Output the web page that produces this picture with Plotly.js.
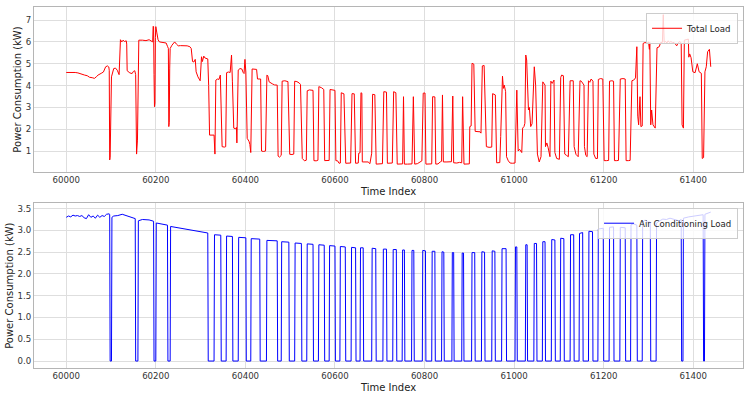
<!DOCTYPE html>
<html>
<head>
<meta charset="utf-8">
<script src="https://cdn.plot.ly/plotly-3.0.1.min.js"></script>
<style>html,body{margin:0;padding:0;background:#fff}#chart{width:750px;height:398px}</style>
</head>
<body>
<div id="chart"></div>
<script>
// Total Load (kW): vertices (time index, value)
const totalX = [60000,60010,60020,60026,60033,60041,60047,60052,60058,60063,60067,60071,60078,60083,60088,60092,60095,60096,60097,60098,60101,60103,60106,60110,60114,60118,60121,60124,60127,60130,60134,60135,60136,60142,60147,60150,60153,60155,60157,60159,60161,60162,60170,60178,60185,60190,60193,60194,60195,60196,60197,60198,60199,60200,60202,60205,60208,60215,60223,60226,60228,60229,60230,60231,60232,60236,60240,60242,60246,60250,60255,60262,60266,60270,60276,60279,60282,60285,60288,60290,60294,60297,60299,60302,60304,60307,60310,60316,60318,60320,60325,60330,60332,60334,60338,60341,60344,60346,60348,60353,60356,60358,60362,60366,60369,60371,60374,60378,60380,60381,60384,60388,60392,60395,60397,60399,60401,60404,60408,60410,60412,60415,60420,60425,60427,60434,60436,60440,60445,60448,60450,60453,60460,60465,60471,60473,60476,60480,60482,60488,60495,60499,60504,60508,60510,60515,60520,60523,60527,60529,60532,60536,60538,60543,60551,60553,60558,60562,60564,60570,60575,60577,60582,60587,60589,60595,60600,60602,60606,60609,60612,60614,60618,60620,60624,60630,60635,60638,60643,60646,60650,60652,60653,60656,60658,60660,60661,60667,60674,60678,60682,60684,60689,60692,60698,60706,60709,60715,60717,60722,60728,60731,60736,60739,60745,60751,60753,60755,60762,60772,60775,60778,60784,60790,60794,60797,60801,60803,60810,60816,60818,60823,60825,60830,60835,60838,60840,60842,60850,60860,60863,60865,60872,60878,60883,60885,60888,60895,60900,60901,60904,60906,60910,60913,60918,60924,60926,60929,60933,60937,60938,60944,60950,60952,60956,60958,60961,60965,60968,60970,60974,60976,60978,60981,60983,60987,60991,60996,61002,61006,61009,61012,61017,61019,61022,61024,61026,61028,61032,61034,61037,61040,61045,61048,61052,61056,61060,61064,61066,61069,61070,61073,61076,61080,61082,61085,61089,61091,61095,61101,61104,61106,61110,61113,61117,61121,61125,61132,61134,61138,61143,61147,61150,61153,61156,61157,61160,61163,61166,61169,61172,61176,61178,61182,61186,61188,61193,61198,61201,61206,61211,61213,61218,61222,61224,61229,61233,61237,61243,61248,61250,61255,61259,61263,61267,61271,61274,61276,61278,61281,61283,61286,61288,61292,61297,61300,61302,61303,61305,61307,61310,61315,61319,61324,61327,61331,61333,61335,61338,61341,61344,61347,61350,61354,61357,61360,61363,61366,61370,61373,61375,61378,61380,61384,61389,61390,61392,61395,61399,61404,61409,61413,61418,61420,61423,61426,61429,61432,61434,61436,61439];
const totalY = [4.60,4.61,4.60,4.58,4.52,4.48,4.45,4.38,4.36,4.33,4.40,4.48,4.56,4.62,4.86,4.90,4.85,4.70,0.59,0.70,4.40,4.56,4.78,4.80,4.70,4.50,6.10,6.00,6.08,6.02,6.05,5.90,4.68,4.58,4.55,4.65,4.68,4.50,0.86,1.50,6.00,6.08,6.08,6.06,6.10,6.05,6.00,6.72,6.70,4.50,3.03,3.20,6.20,6.70,6.45,6.10,6.00,5.98,5.95,5.80,5.70,2.12,2.30,4.80,5.70,5.85,5.95,6.00,5.90,5.82,5.83,5.82,5.84,5.82,5.78,5.70,5.10,5.08,5.20,4.63,4.40,4.30,4.22,5.32,5.10,5.35,5.26,5.22,4.00,1.73,1.72,1.73,0.86,4.25,4.30,4.28,4.48,2.00,1.20,1.18,1.20,4.59,4.62,4.60,5.40,4.17,2.05,2.02,2.08,1.37,4.71,4.78,4.76,4.60,4.55,5.20,4.62,1.58,1.45,1.30,0.93,4.76,4.76,4.74,4.30,4.30,1.00,0.98,1.00,4.48,4.45,4.17,4.08,4.03,4.02,0.77,0.72,0.80,4.20,4.22,4.18,0.85,0.84,0.86,4.20,4.18,4.12,4.05,0.66,0.60,0.55,0.58,3.76,3.80,3.78,0.56,0.55,0.58,3.95,3.90,3.82,0.56,0.55,0.57,3.82,3.80,3.78,0.56,0.55,0.44,0.45,3.67,3.64,3.62,0.44,0.43,0.45,3.63,3.62,0.44,0.43,0.45,0.90,0.92,3.67,3.65,0.50,0.50,0.50,0.42,0.90,3.60,3.58,0.40,0.40,0.42,3.72,3.70,0.44,0.44,0.45,3.72,3.67,0.40,0.40,0.41,3.49,0.40,0.40,0.41,3.49,0.40,0.42,0.52,0.55,3.65,3.66,0.40,0.40,0.41,3.49,3.48,0.40,0.41,0.50,0.53,3.57,0.50,0.50,0.51,3.52,0.46,0.45,0.48,0.46,3.49,0.40,0.40,0.41,2.12,2.15,5.02,4.98,1.90,1.90,1.88,1.82,4.90,4.92,1.66,1.20,1.17,1.18,3.63,3.60,3.57,0.46,0.46,0.47,1.66,4.43,3.87,4.02,3.72,0.74,0.55,0.45,0.44,0.45,3.79,1.00,1.08,0.93,2.05,2.12,2.27,5.40,5.17,2.88,3.00,2.12,2.25,4.86,4.02,0.86,0.50,0.74,4.17,4.12,4.02,1.20,1.37,1.15,0.74,4.20,4.10,4.25,0.93,0.66,0.62,4.37,4.48,4.45,0.86,0.80,0.74,4.22,4.22,1.20,0.85,0.74,4.22,4.20,4.10,4.02,1.20,0.80,0.74,4.22,4.15,4.30,4.20,0.86,0.66,0.66,4.28,4.32,4.30,0.56,0.56,0.57,4.20,4.22,4.20,0.56,0.56,0.57,4.30,4.32,4.30,0.56,0.56,0.57,4.22,4.25,4.35,5.78,2.60,2.20,3.49,2.12,2.15,5.93,5.97,5.95,6.00,5.66,5.98,2.20,2.88,2.20,2.05,5.73,5.78,5.97,5.98,7.25,5.98,6.02,5.95,6.05,5.97,6.02,5.96,5.98,5.90,5.82,5.95,6.02,5.95,2.20,2.05,6.08,6.10,6.13,5.30,5.45,5.28,4.63,4.59,5.00,4.63,4.56,0.66,0.70,4.63,4.86,5.55,5.60,5.66,4.86];

// Air Conditioning Load (kW): vertices
const acX = [60000,60005,60010,60015,60020,60025,60030,60035,60040,60045,60050,60055,60060,60065,60070,60075,60080,60085,60090,60096,60097,60098,60101,60102,60106,60115,60125,60135,60145,60154,60155,60160,60161,60170,60185,60195,60196,60200,60201,60215,60226,60227,60232,60233,60250,60270,60285,60300,60316,60317,60330,60331,60345,60346,60357,60358,60371,60372,60384,60385,60401,60402,60412,60413,60432,60433,60447,60448,60471,60472,60480,60481,60497,60498,60510,60511,60525,60526,60537,60538,60551,60552,60563,60564,60576,60577,60587,60588,60600,60601,60611,60612,60623,60624,60636,60637,60646,60647,60656,60657,60663,60664,60682,60683,60691,60692,60707,60708,60715,60716,60729,60730,60737,60738,60750,60751,60755,60756,60771,60772,60776,60777,60795,60796,60802,60803,60816,60817,60823,60824,60838,60839,60843,60844,60861,60862,60865,60866,60883,60884,60887,60888,60905,60906,60912,60913,60927,60928,60934,60935,60950,60951,60957,60958,60972,60973,60982,60983,61002,61003,61006,61007,61025,61026,61029,61030,61044,61045,61050,61051,61063,61064,61069,61070,61083,61084,61091,61092,61103,61104,61111,61112,61125,61126,61133,61134,61145,61146,61153,61154,61166,61167,61175,61176,61187,61188,61199,61200,61212,61213,61222,61223,61236,61237,61248,61249,61260,61261,61266,61274,61275,61286,61287,61292,61298,61304,61305,61317,61318,61325,61332,61340,61348,61355,61362,61368,61373,61374,61377,61378,61390,61400,61410,61422,61423,61425,61426,61439];
const acY = [3.30,3.33,3.31,3.35,3.33,3.34,3.32,3.34,3.29,3.27,3.36,3.30,3.33,3.28,3.35,3.30,3.34,3.32,3.37,3.38,3.36,0,0,3.30,3.33,3.34,3.37,3.33,3.29,3.27,0,0,3.22,3.25,3.24,3.21,0,0,3.17,3.15,3.12,0,0,3.09,3.06,3.02,2.99,2.96,2.94,0,0,2.90,2.89,0,0,2.87,2.86,0,0,2.84,2.83,0,0,2.81,2.80,0,0,2.77,2.76,0,0,2.74,2.73,0,0,2.71,2.70,0,0,2.69,2.68,0,0,2.67,2.66,0,0,2.65,2.64,0,0,2.63,2.62,0,0,2.61,2.60,0,0,2.60,2.60,0,0,2.59,2.58,0,0,2.57,2.57,0,0,2.56,2.56,0,0,2.55,2.55,0,0,2.54,2.54,0,0,2.54,2.53,0,0,2.52,2.52,0,0,2.51,2.50,0,0,2.49,2.49,0,0,2.48,2.48,0,0,2.49,2.49,0,0,2.51,2.50,0,0,2.53,2.52,0,0,2.58,2.58,0,0,2.62,2.62,0,0,2.67,2.67,0,0,2.70,2.70,0,0,2.74,2.74,0,0,2.79,2.78,0,0,2.82,2.81,0,0,2.90,2.90,0,0,2.93,2.95,0,0,2.98,2.97,0,0,3.03,3.05,0,0,3.07,3.08,0,0,3.07,3.06,0,0,3.13,3.15,3.12,0,0,3.18,3.24,3.19,3.19,0,0,3.17,3.22,3.26,3.25,3.28,3.26,3.24,3.22,3.25,0,0,3.28,3.31,3.33,3.35,3.36,0,0,3.37,3.42];

const xTicks = [60000,60200,60400,60600,60800,61000,61200,61400];
const topYTicks = [1,2,3,4,5,6,7];
const botYTicks = [0,0.5,1,1.5,2,2.5,3,3.5];
const botYTickText = ['0.0','0.5','1.0','1.5','2.0','2.5','3.0','3.5'];

const FONT = 'DejaVu Sans, sans-serif';
const gridC = '#dedede';
const lineC = '#b5b5b5';

const traces = [
  {x: totalX, y: totalY, type: 'scatter', mode: 'lines', name: 'Total Load',
   line: {color: '#ff0000', width: 1}, xaxis: 'x', yaxis: 'y', legend: 'legend'},
  {x: acX, y: acY, type: 'scatter', mode: 'lines', name: 'Air Conditioning Load',
   line: {color: '#0000ff', width: 1}, xaxis: 'x2', yaxis: 'y2', legend: 'legend2'}
];

const axCommon = {
  showgrid: true, gridcolor: gridC, gridwidth: 1, zeroline: false,
  showline: true, linecolor: lineC, linewidth: 1, mirror: true,
  ticks: '', tickfont: {family: FONT, size: 8.6, color: '#333'}
};

const layout = {
  width: 750, height: 398,
  margin: {l: 34, r: 7, t: 7, b: 30},
  paper_bgcolor: '#fff', plot_bgcolor: '#fff',
  showlegend: true,
  xaxis: Object.assign({}, axCommon, {
    domain: [0, 1], anchor: 'y', range: [59928, 61511],
    tickvals: xTicks, ticktext: xTicks.map(String),
    title: {text: 'Time Index', font: {family: FONT, size: 10, color: '#222'}, standoff: 3}
  }),
  yaxis: Object.assign({}, axCommon, {
    domain: [0.543, 1], anchor: 'x', range: [0.04, 7.6],
    tickvals: topYTicks, ticktext: topYTicks.map(String),
    title: {text: 'Power Consumption (kW)', font: {family: FONT, size: 10, color: '#222'}, standoff: 2}
  }),
  xaxis2: Object.assign({}, axCommon, {
    domain: [0, 1], anchor: 'y2', range: [59928, 61511],
    tickvals: xTicks, ticktext: xTicks.map(String),
    title: {text: 'Time Index', font: {family: FONT, size: 10, color: '#222'}, standoff: 3}
  }),
  yaxis2: Object.assign({}, axCommon, {
    domain: [0, 0.456], anchor: 'x2', range: [-0.16, 3.62],
    tickvals: botYTicks, ticktext: botYTickText,
    title: {text: 'Power Consumption (kW)', font: {family: FONT, size: 10, color: '#222'}, standoff: 2}
  }),
  legend: {x: 0.993, xanchor: 'right', y: 0.984, yanchor: 'top',
    bgcolor: 'rgba(255,255,255,0.8)', bordercolor: '#cccccc', borderwidth: 1,
    font: {family: FONT, size: 8.6, color: '#222'}, itemwidth: 30},
  legend2: {x: 0.993, xanchor: 'right', y: 0.444, yanchor: 'top',
    bgcolor: 'rgba(255,255,255,0.8)', bordercolor: '#cccccc', borderwidth: 1,
    font: {family: FONT, size: 8.6, color: '#222'}, itemwidth: 30}
};

Plotly.newPlot('chart', traces, layout, {displayModeBar: false, staticPlot: true});
</script>
</body>
</html>
